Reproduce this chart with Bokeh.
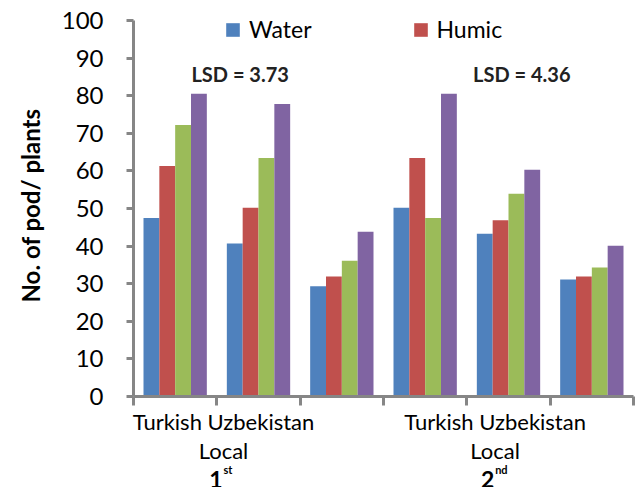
import math
from bokeh.plotting import figure
from bokeh.models import (Range1d, FixedTicker, Label, Legend, LegendItem,
                          ColumnDataSource)
from bokeh.embed import file_html
from bokeh.resources import INLINE

# Number of pods per plant, two seasons x three cultivars, four treatments
seasons = ["1", "2"]
season_suffix = ["st", "nd"]
cultivars = ["Turkish", "Uzbekistan", "Local"]
water = [47.5, 40.7, 29.3, 50.2, 43.3, 31.1]
humic = [61.3, 50.2, 31.9, 63.4, 46.9, 31.9]
treatment_3 = [72.2, 63.4, 36.1, 47.5, 53.9, 34.3]
treatment_4 = [80.5, 77.8, 43.8, 80.5, 60.3, 40.1]
lsd_values = [3.73, 4.36]
y_ticks = [0, 10, 20, 30, 40, 50, 60, 70, 80, 90, 100]

series = [
    ("Water", water, "#4F81BD"),
    ("Humic", humic, "#C0504D"),
    ("Treatment 3", treatment_3, "#9BBB59"),
    ("Treatment 4", treatment_4, "#8064A2"),
]

FONT = "Lato"
AXIS_GREY = "#868686"
W, H = 638, 487

n_cat = len(seasons) * len(cultivars)

# The frame covers the whole canvas; axes sit at fixed data locations so
# that captions around them can be placed in data space.
px_per_x = 500 / n_cat          # category slot width in pixels
px_per_y = 376 / 100            # pixels per pod
x0_px, y0_px = 133, 396         # pixel position of the axes' origin
x_range = Range1d(-x0_px / px_per_x, (W - x0_px) / px_per_x)
y_range = Range1d(-(H - y0_px) / px_per_y, y0_px / px_per_y)

p = figure(width=W, height=H, output_backend="svg", toolbar_location=None,
           x_range=x_range, y_range=y_range,
           min_border=0, min_border_left=0, min_border_right=0,
           min_border_top=0, min_border_bottom=0)
p.outline_line_color = None
p.grid.grid_line_color = None
p.background_fill_color = "white"
p.border_fill_color = "white"

# clustered bars: four adjacent bars centred in each category slot
bar_w = 0.19
renderers = {}
for k, (name, vals, color) in enumerate(series):
    xs = [i + 0.5 + (k - 1.5) * bar_w for i in range(n_cat)]
    src = ColumnDataSource(dict(x=xs, top=vals))
    r = p.vbar(x="x", top="top", width=bar_w, source=src,
               fill_color=color, line_color=None)
    renderers[name] = r

# y axis
yax = p.yaxis[0]
yax.fixed_location = 0
yax.bounds = (0, 100)
yax.ticker = FixedTicker(ticks=y_ticks)
yax.minor_tick_line_color = None
yax.axis_line_color = AXIS_GREY
yax.axis_line_width = 3
yax.major_tick_line_color = AXIS_GREY
yax.major_tick_line_width = 3
yax.major_tick_out = 7
yax.major_tick_in = 0
yax.major_label_text_font = FONT
yax.major_label_text_font_size = "24px"
yax.major_label_text_color = "black"
yax.major_label_standoff = 23

# x axis: tick marks at category boundaries, captions drawn as labels
xax = p.xaxis[0]
xax.fixed_location = 0
xax.bounds = (0, n_cat)
xax.ticker = FixedTicker(ticks=list(range(n_cat + 1)))
xax.minor_tick_line_color = None
xax.axis_line_color = AXIS_GREY
xax.axis_line_width = 3
xax.major_tick_line_color = AXIS_GREY
xax.major_tick_line_width = 3
xax.major_tick_out = 9
xax.major_tick_in = 0
xax.major_label_text_font_size = "0px"

# y axis title
p.add_layout(Label(x=(30 - x0_px) / px_per_x, y=(y0_px - 205) / px_per_y,
                   text="No. of pod/ plants", angle=math.pi / 2,
                   text_align="center", text_baseline="middle",
                   text_font=FONT, text_font_style="bold",
                   text_font_size="24px", text_color="black"))

# group captions under each season
group_x = [1.08, 4.34]
for g, season in enumerate(seasons):
    gx = group_x[g]
    p.add_layout(Label(x=gx, y=-6.6, text=" ".join(cultivars[:2]),
                       text_align="center", text_baseline="alphabetic",
                       text_font=FONT, text_font_size="22px", text_color="black"))
    p.add_layout(Label(x=gx, y=-14.3, text=cultivars[2],
                       text_align="center", text_baseline="alphabetic",
                       text_font=FONT, text_font_size="22px", text_color="black"))
    p.add_layout(Label(x=gx - 0.01, y=-22.2, text=season,
                       text_align="right", text_baseline="alphabetic",
                       text_font=FONT, text_font_style="bold",
                       text_font_size="23px", text_color="black"))
    p.add_layout(Label(x=gx, y=-19.3, text=season_suffix[g],
                       text_align="left", text_baseline="alphabetic",
                       text_font=FONT, text_font_style="bold",
                       text_font_size="11px", text_color="black"))

# LSD annotations above each season
lsd_x = [1.28, 4.66]
for g, v in enumerate(lsd_values):
    p.add_layout(Label(x=lsd_x[g], y=85.7, text=f"LSD = {v:.2f}",
                       text_align="center", text_baseline="alphabetic",
                       text_font=FONT, text_font_style="bold",
                       text_font_size="20px", text_color="#222222"))

legend = Legend(items=[LegendItem(label="Water", renderers=[renderers["Water"]]),
                       LegendItem(label="Humic", renderers=[renderers["Humic"]])],
                orientation="horizontal", location=(224, 444),
                glyph_width=17, glyph_height=17, label_standoff=8,
                spacing=100, padding=0, margin=0,
                border_line_color=None, background_fill_alpha=0,
                label_text_font=FONT, label_text_font_size="23px",
                label_text_color="black")
p.add_layout(legend)

open("out.html", "w").write(file_html(p, INLINE))
